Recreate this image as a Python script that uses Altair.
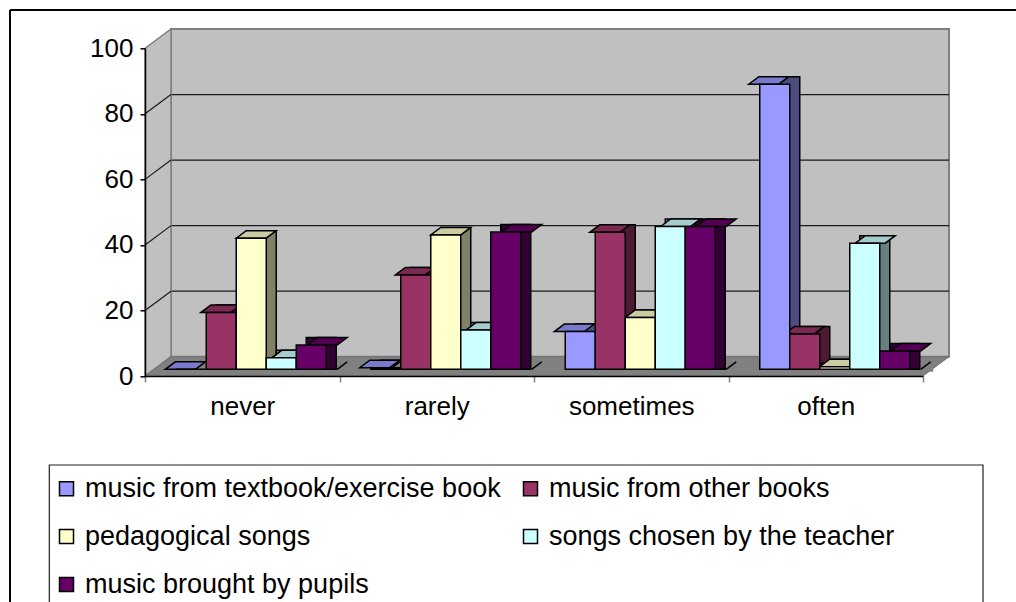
import altair as alt
import pandas as pd

# ---- data -------------------------------------------------------------
CATEGORIES = ["never", "rarely", "sometimes", "often"]
SERIES = [
    "music from textbook/exercise book",
    "music from other books",
    "pedagogical songs",
    "songs chosen by the teacher",
    "music brought by pupils",
]
TEXTBOOK = [0.0, 0.5, 11.5, 87.0]
OTHER_BOOKS = [17.3, 28.8, 41.8, 10.8]
PEDAGOGICAL = [40.0, 41.0, 15.8, 0.8]
TEACHER = [3.5, 12.0, 43.6, 38.5]
PUPILS = [7.4, 41.9, 43.6, 5.6]
SERIES_VALUES = [TEXTBOOK, OTHER_BOOKS, PEDAGOGICAL, TEACHER, PUPILS]
Y_TICKS = [0, 20, 40, 60, 80, 100]
GRID_TICKS = [20, 40, 60, 80]

# face colours of the 3-D columns: front, right side, top
FRONT = ["#9999FF", "#993366", "#FFFFCC", "#CCFFFF", "#660066"]
SIDE = ["#4D4D80", "#4D1A33", "#808066", "#668080", "#330033"]
TOP = ["#7A7ACC", "#7A2952", "#CCCCA3", "#A3CCCC", "#520052"]

FONT = "Liberation Sans, Arial, sans-serif"

# ---- geometry of the 3-D frame (pixels) --------------------------------
W, H = 778, 327.7          # front plane of the plot
LEFT, TOPPAD = 145, 48.3   # where the front plane sits on the page
PAGE_W, PAGE_H = 1016, 602
STEP = W / len(CATEGORIES)
DEPTH_X, DEPTH_Y = 26, 19.3        # floor depth
BAR_W = 30
BAR_DX, BAR_DY = 10, 7.5           # column depth
SHIFT_X, SHIFT_Y = 9, 6.7          # columns stand part-way into the floor
PAD_OUTER = (STEP - len(SERIES) * BAR_W) / (2 * BAR_W)


def path(points, s, close=True):
    d = "M " + " L ".join(f"{x / s:.4f} {y / s:.4f}" for x, y in points)
    return d + (" Z" if close else "")


rows = []
for si, name in enumerate(SERIES):
    for ci, cat in enumerate(CATEGORIES):
        rows.append({"category": cat, "series": name,
                     "value": SERIES_VALUES[si][ci], "base": 0,
                     "side": SIDE[si], "top": TOP[si]})
bars = pd.DataFrame(rows)
frame = pd.DataFrame({"hi": [100], "lo": [0], "mid": [50]})
grid = pd.DataFrame({"tick": GRID_TICKS})

yscale = alt.Scale(domain=[0, 100], nice=False)
yaxis = alt.Axis(values=Y_TICKS, grid=False, domainColor="black", domainWidth=1.5,
                 tickColor="black", tickSize=5, tickWidth=1.5, labelFontSize=26,
                 labelColor="black", labelPadding=7, labelFont=FONT, zindex=1)
xaxis = alt.Axis(tickBand="extent", tickSize=6, tickColor="#808080", tickWidth=1.5,
                 domainColor="black", domainWidth=1.5, labelFontSize=26,
                 labelColor="black", labelPadding=11, labelAngle=0, labelFont=FONT,
                 zindex=1)


def Y(field):
    return alt.Y(f"{field}:Q", scale=yscale, axis=yaxis, title=None, stack=None)


def X():
    return alt.X("category:N", sort=CATEGORIES, title=None, axis=xaxis,
                 scale=alt.Scale(domain=CATEGORIES, paddingInner=0, paddingOuter=0))


def XOFF(shift):
    return alt.XOffset("series:N", sort=SERIES,
                       scale=alt.Scale(domain=SERIES, range=[shift, shift + STEP],
                                       paddingInner=0, paddingOuter=PAD_OUTER))


# ---- walls and floor ----------------------------------------------------
back_wall = alt.Chart(frame).mark_rect(
    fill="#C0C0C0", stroke="#808080", strokeWidth=2,
    yOffset=-DEPTH_Y, y2Offset=-DEPTH_Y
).encode(x=alt.value(DEPTH_X), x2=alt.value(W + DEPTH_X), y=Y("hi"), y2="lo")

back_grid = alt.Chart(grid).mark_rule(
    color="#1a1a1a", strokeWidth=1.2, yOffset=-DEPTH_Y
).encode(x=alt.value(DEPTH_X), x2=alt.value(W + DEPTH_X), y=Y("tick"))

WALL_S = 200
left_wall_shape = path([(-DEPTH_X / 2, H / 2), (-DEPTH_X / 2, -H / 2),
                        (DEPTH_X / 2, -H / 2 - DEPTH_Y), (DEPTH_X / 2, H / 2 - DEPTH_Y)],
                       WALL_S)
left_wall = alt.Chart(frame).mark_point(
    shape=left_wall_shape, size=(2 * WALL_S) ** 2, filled=True, opacity=1,
    fill="#C0C0C0", stroke="#808080", strokeWidth=1.5
).encode(x=alt.value(DEPTH_X / 2), y=Y("mid"))

left_grid = alt.Chart(grid).mark_rule(
    color="#1a1a1a", strokeWidth=1.2, y2Offset=-DEPTH_Y
).encode(x=alt.value(0), x2=alt.value(DEPTH_X), y=Y("tick"), y2="tick")

FLOOR_S = 500
floor_shape = path([(-W / 2, 0), (W / 2, 0), (W / 2 + DEPTH_X, -DEPTH_Y),
                    (-W / 2 + DEPTH_X, -DEPTH_Y)], FLOOR_S)
floor = alt.Chart(frame).mark_point(
    shape=floor_shape, size=(2 * FLOOR_S) ** 2, filled=True, opacity=1,
    fill="#808080", stroke="#707070", strokeWidth=1
).encode(x=alt.value(W / 2), y=Y("lo"))

# ---- 3-D columns ----------------------------------------------------------
FACE_S = 25
hw = BAR_W / 2
top_shape = path([(-hw, 0), (hw, 0), (hw + BAR_DX, -BAR_DY), (-hw + BAR_DX, -BAR_DY)], FACE_S)
mask_shape = path([(hw, 0), (hw + BAR_DX, -BAR_DY), (hw + BAR_DX + 2.5, -BAR_DY),
                   (hw + BAR_DX + 2.5, 2.5), (hw, 2.5)], FACE_S)
edge_shape = path([(hw, 0), (hw + BAR_DX, -BAR_DY)], FACE_S, close=False)

sides = alt.Chart(bars).mark_bar(
    stroke="black", strokeWidth=1.5,
    yOffset=-(SHIFT_Y + BAR_DY), y2Offset=-SHIFT_Y
).encode(x=X(), xOffset=XOFF(SHIFT_X + BAR_DX), y=Y("value"), y2="base",
         fill=alt.Fill("side:N", scale=None))

bottom_mask = alt.Chart(bars).mark_point(
    shape=mask_shape, size=(2 * FACE_S) ** 2, filled=True, opacity=1,
    fill="#808080", strokeWidth=0, yOffset=-SHIFT_Y
).encode(x=X(), xOffset=XOFF(SHIFT_X), y=Y("base"))

bottom_edge = alt.Chart(bars).mark_point(
    shape=edge_shape, size=(2 * FACE_S) ** 2, filled=False, opacity=1,
    stroke="black", strokeWidth=1.5, yOffset=-SHIFT_Y
).encode(x=X(), xOffset=XOFF(SHIFT_X), y=Y("base"))

tops = alt.Chart(bars).mark_point(
    shape=top_shape, size=(2 * FACE_S) ** 2, filled=True, opacity=1,
    stroke="black", strokeWidth=1.5, yOffset=-SHIFT_Y
).encode(x=X(), xOffset=XOFF(SHIFT_X), y=Y("value"),
         fill=alt.Fill("top:N", scale=None))

fronts = alt.Chart(bars).mark_bar(
    stroke="black", strokeWidth=1.5, yOffset=-SHIFT_Y, y2Offset=-SHIFT_Y
).encode(
    x=X(), xOffset=XOFF(SHIFT_X), y=Y("value"), y2="base",
    color=alt.Color(
        "series:N", sort=SERIES, scale=alt.Scale(domain=SERIES, range=FRONT),
        legend=alt.Legend(
            title=None, orient="none", legendX=53 - LEFT, legendY=475 - TOPPAD,
            direction="horizontal", columns=2, symbolType="square", symbolSize=196,
            symbolStrokeColor="black", symbolStrokeWidth=1.5,
            labelFont=FONT, labelFontSize=27, labelColor="black", labelLimit=800,
            labelOffset=5, rowPadding=20, columnPadding=16, padding=0,
        ),
    ),
)

# ---- chart border and legend box ---------------------------------------
border = pd.DataFrame({"k": [0]})
outer_top = alt.Chart(border).mark_rule(color="black", strokeWidth=2).encode(
    x=alt.value(10 - LEFT), x2=alt.value(PAGE_W - LEFT + 10), y=alt.value(10 - TOPPAD))
outer_left = alt.Chart(border).mark_rule(color="black", strokeWidth=2).encode(
    x=alt.value(10 - LEFT), y=alt.value(10 - TOPPAD), y2=alt.value(PAGE_H - TOPPAD + 10))
legend_box = alt.Chart(border).mark_rect(
    fill="white", fillOpacity=0, stroke="#222222", strokeWidth=1.2
).encode(x=alt.value(49.3 - LEFT), x2=alt.value(983 - LEFT),
         y=alt.value(465 - TOPPAD), y2=alt.value(PAGE_H - TOPPAD + 20))

chart = alt.layer(
    outer_top, outer_left, legend_box,
    back_wall, back_grid, left_wall, left_grid, floor,
    sides, bottom_mask, bottom_edge, tops, fronts,
).resolve_scale(xOffset="independent").properties(
    width=W, height=H,
    autosize=alt.AutoSizeParams(type="none"),
    padding={"left": LEFT, "top": TOPPAD,
             "right": PAGE_W - LEFT - W, "bottom": PAGE_H - TOPPAD - H},
    background="white",
).configure_view(stroke=None)

chart.save("out.html", embed_options={"renderer": "svg", "actions": False})
